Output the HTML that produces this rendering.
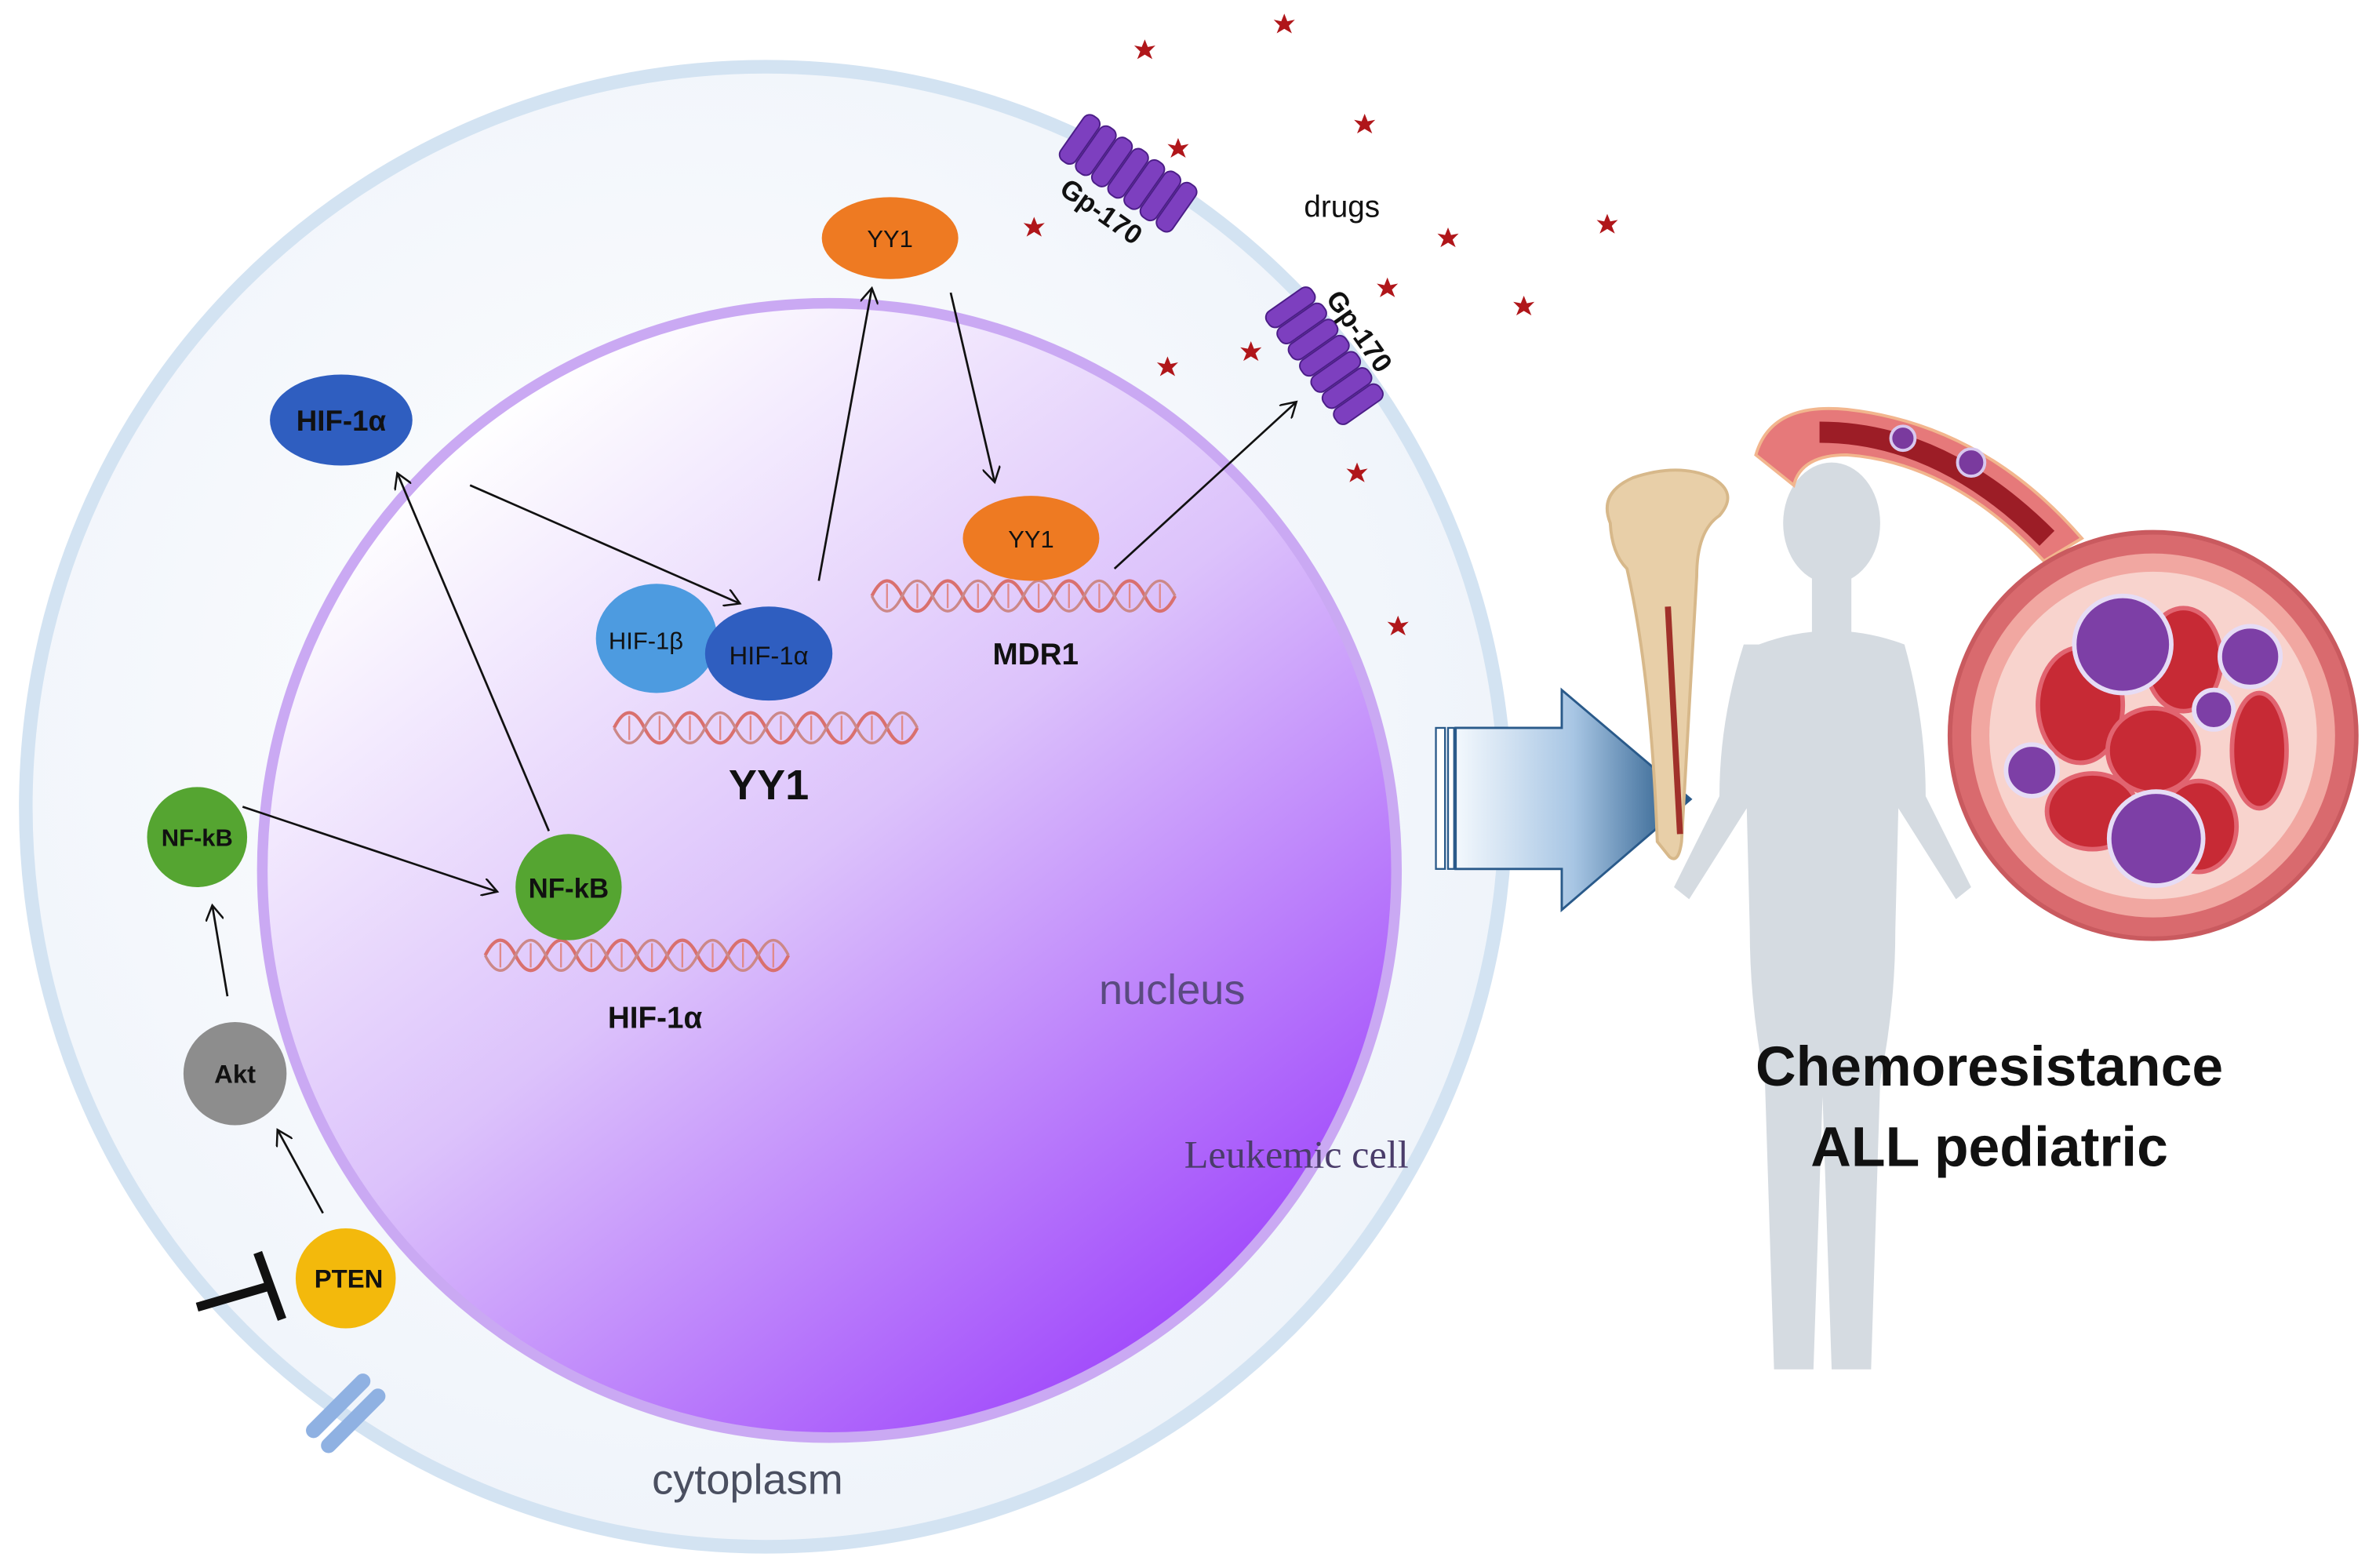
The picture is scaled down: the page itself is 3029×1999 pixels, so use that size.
<!DOCTYPE html>
<html><head><meta charset="utf-8"><style>html,body{margin:0;padding:0;background:#fff}svg{display:block}</style></head>
<body>
<svg width="3029" height="1999" viewBox="0 0 1567 1034" preserveAspectRatio="none" xmlns="http://www.w3.org/2000/svg" font-family="Liberation Sans, sans-serif">
<defs>
<linearGradient id="nuc" x1="0.2" y1="0.1" x2="0.85" y2="0.95">
<stop offset="0" stop-color="#ffffff"/><stop offset="0.45" stop-color="#dcc2fb"/><stop offset="1" stop-color="#9a3cfb"/></linearGradient>
<radialGradient id="cyt" cx="0.45" cy="0.45" r="0.6"><stop offset="0" stop-color="#ffffff"/><stop offset="1" stop-color="#eef3fa"/></radialGradient>
<linearGradient id="arr" x1="0" x2="1"><stop offset="0" stop-color="#f3f8fd"/><stop offset="0.5" stop-color="#a8c6e4"/><stop offset="1" stop-color="#1e5282"/></linearGradient>
<marker id="ah" markerWidth="12" markerHeight="12" refX="10" refY="6" orient="auto" markerUnits="userSpaceOnUse"><path d="M0,0 L10,6 L0,12" fill="none" stroke="#111" stroke-width="1.3"/></marker>
<g id="dna"><path d="M0,10 q10,-20 20,0 t20,0 t20,0 t20,0 t20,0 t20,0 t20,0 t20,0 t20,0 t20,0" fill="none" stroke="#d9706e" stroke-width="2.2"/><path d="M0,10 q10,20 20,0 t20,0 t20,0 t20,0 t20,0 t20,0 t20,0 t20,0 t20,0 t20,0" fill="none" stroke="#c88" stroke-width="1.8"/><path d="M10,2 v16 M30,2 v16 M50,2 v16 M70,2 v16 M90,2 v16 M110,2 v16 M130,2 v16 M150,2 v16 M170,2 v16 M190,2 v16" stroke="#e08a8a" stroke-width="1.2"/></g>
<g id="star"><path d="M0,-7 L2,-2 7,-3 3,1 5,6 0,3 -5,6 -3,1 -7,-3 -2,-2Z" fill="#b0161a"/></g>
</defs>
<rect width="1567" height="1034" fill="#fff"/>
<circle cx="505" cy="532" r="488" fill="url(#cyt)" stroke="#d3e3f2" stroke-width="9"/>
<circle cx="547" cy="574" r="374" fill="url(#nuc)" stroke="#caa9f3" stroke-width="7"/>
<use href="#dna" x="405" y="470"/>
<use href="#dna" x="575" y="383"/>
<use href="#dna" x="320" y="620"/>
<g stroke="#111" stroke-width="1.4" fill="none" marker-end="url(#ah)">
<line x1="310" y1="320" x2="488" y2="398"/>
<line x1="540" y1="383" x2="575" y2="190"/>
<line x1="627" y1="193" x2="656" y2="318"/>
<line x1="735" y1="375" x2="855" y2="265"/>
<line x1="362" y1="548" x2="262" y2="312"/>
<line x1="160" y1="532" x2="328" y2="588"/>
<line x1="150" y1="657" x2="140" y2="597"/>
<line x1="213" y1="800" x2="183" y2="745"/>
</g>
<path d="M130,862 L178,848 M170,826 L186,870" stroke="#111" stroke-width="6" fill="none"/>
<g transform="translate(228,932) rotate(-45)"><rect x="-28" y="-12" width="56" height="10" rx="5" fill="#8fb1e2"/><rect x="-28" y="2" width="56" height="10" rx="5" fill="#8fb1e2"/></g>
<ellipse cx="225" cy="277" rx="47" ry="30" fill="#2f5ec0"/><text x="225" y="284" text-anchor="middle" font-size="19" fill="#111" font-weight="bold">HIF-1α</text>
<ellipse cx="587" cy="157" rx="45" ry="27" fill="#ee7a22"/><text x="587" y="163" text-anchor="middle" font-size="16" fill="#111">YY1</text>
<ellipse cx="680" cy="355" rx="45" ry="28" fill="#ee7a22"/><text x="680" y="361" text-anchor="middle" font-size="16" fill="#111">YY1</text>
<ellipse cx="433" cy="421" rx="40" ry="36" fill="#4d9be0"/><text x="426" y="428" text-anchor="middle" font-size="16" fill="#111">HIF-1β</text>
<ellipse cx="507" cy="431" rx="42" ry="31" fill="#2f5ec0"/><text x="507" y="438" text-anchor="middle" font-size="17" fill="#111">HIF-1α</text>
<circle cx="130" cy="552" r="33" fill="#55a531"/><text x="130" y="558" text-anchor="middle" font-size="16" font-weight="bold" fill="#111">NF-kB</text>
<circle cx="375" cy="585" r="35" fill="#55a531"/><text x="375" y="592" text-anchor="middle" font-size="18" font-weight="bold" fill="#111">NF-kB</text>
<circle cx="155" cy="708" r="34" fill="#8d8d8d"/><text x="155" y="714" text-anchor="middle" font-size="17" font-weight="bold" fill="#111">Akt</text>
<circle cx="228" cy="843" r="33" fill="#f3b90c"/><text x="230" y="849" text-anchor="middle" font-size="17" font-weight="bold" fill="#111">PTEN</text>
<text x="507" y="527" text-anchor="middle" font-size="28" font-weight="bold" fill="#111">YY1</text>
<text x="683" y="438" text-anchor="middle" font-size="20" font-weight="bold" fill="#111">MDR1</text>
<text x="432" y="678" text-anchor="middle" font-size="20" font-weight="bold" fill="#111">HIF-1α</text>
<text x="773" y="662" text-anchor="middle" font-size="28" fill="#5a4a80">nucleus</text>
<text x="855" y="770" text-anchor="middle" font-size="26" fill="#4a3c6a" font-family="Liberation Serif, serif">Leukemic  cell</text>
<text x="493" y="985" text-anchor="middle" font-size="28" fill="#4a4f60">cytoplasm</text>
<text x="885" y="143" text-anchor="middle" font-size="20" fill="#111">drugs</text>
<g transform="translate(740,120) rotate(35)"><g fill="#7d3fbf" stroke="#4b1d87" stroke-width="1"><rect x="-45" y="-25" width="12" height="36" rx="5"/><rect x="-32" y="-25" width="12" height="36" rx="5"/><rect x="-19" y="-25" width="12" height="36" rx="5"/><rect x="-6" y="-25" width="12" height="36" rx="5"/><rect x="7" y="-25" width="12" height="36" rx="5"/><rect x="20" y="-25" width="12" height="36" rx="5"/><rect x="33" y="-25" width="12" height="36" rx="5"/></g><text x="0" y="30" text-anchor="middle" font-size="18" font-weight="bold" fill="#111">Gp-170</text></g>
<g transform="translate(880,230) rotate(55)"><g fill="#7d3fbf" stroke="#4b1d87" stroke-width="1"><rect x="-45" y="-10" width="12" height="36" rx="5"/><rect x="-32" y="-10" width="12" height="36" rx="5"/><rect x="-19" y="-10" width="12" height="36" rx="5"/><rect x="-6" y="-10" width="12" height="36" rx="5"/><rect x="7" y="-10" width="12" height="36" rx="5"/><rect x="20" y="-10" width="12" height="36" rx="5"/><rect x="33" y="-10" width="12" height="36" rx="5"/></g><text x="0" y="-14" text-anchor="middle" font-size="18" font-weight="bold" fill="#111">Gp-170</text></g>
<use href="#star" x="755" y="33"/><use href="#star" x="847" y="16"/><use href="#star" x="777" y="98"/><use href="#star" x="900" y="82"/><use href="#star" x="682" y="150"/><use href="#star" x="955" y="157"/><use href="#star" x="1060" y="148"/><use href="#star" x="915" y="190"/><use href="#star" x="1005" y="202"/><use href="#star" x="825" y="232"/><use href="#star" x="770" y="242"/><use href="#star" x="895" y="312"/><use href="#star" x="922" y="413"/>
<path d="M960,480 L1030,480 L1030,455 L1115,527 L1030,600 L1030,573 L960,573Z" fill="url(#arr)" stroke="#2a5a8a" stroke-width="1.5"/>
<rect x="947" y="480" width="6" height="93" fill="#fff" stroke="#2a5a8a" stroke-width="1.2"/>
<rect x="955" y="480" width="4" height="93" fill="#fff" stroke="#2a5a8a" stroke-width="1.2"/>
<!-- child -->
<g fill="#d5dbe1">
<ellipse cx="1208" cy="345" rx="32" ry="40"/>
<rect x="1195" y="380" width="26" height="40"/>
<path d="M1160,425 q48,-18 96,0 q14,50 14,100 l30,60 l-10,8 l-38,-60 l-2,80 q0,50 -10,100 l-6,190 h-26 l-6,-180 l-6,180 h-26 l-6,-190 q-10,-50 -10,-100 l-2,-80 l-38,60 l-10,-8 l30,-60 q0,-50 16,-100Z"/>
</g>
<!-- bone -->
<path d="M1062,345 q-8,-20 15,-30 q30,-10 52,0 q18,10 5,25 q-15,10 -15,40 l-10,175 q-2,15 -8,10 l-8,-10 q-4,-110 -20,-180 q-10,-10 -11,-30Z" fill="#e8cfa8" stroke="#d7b88a" stroke-width="2"/>
<path d="M1100,400 l8,150" stroke="#a0302a" stroke-width="4"/>
<!-- vessel -->
<path d="M1158,300 q10,-35 60,-30 q90,10 155,85 l-25,15 q-60,-65 -130,-70 q-30,0 -35,20Z" fill="#e6797a" stroke="#f2b68e" stroke-width="2"/>
<path d="M1200,285 q80,0 150,70" stroke="#9c1d26" stroke-width="14" fill="none"/>
<circle cx="1255" cy="289" r="8" fill="#7a3a9e" stroke="#d8c8ee" stroke-width="2"/><circle cx="1300" cy="305" r="9" fill="#7a3a9e" stroke="#d8c8ee" stroke-width="2"/>
<circle cx="1420" cy="485" r="134" fill="#d96a6e" stroke="#c95a5f" stroke-width="3"/>
<circle cx="1420" cy="485" r="120" fill="#f1a7a1"/>
<circle cx="1420" cy="485" r="108" fill="#f8d3cd"/>
<g fill="#c72a35" stroke="#e16470" stroke-width="3">
<ellipse cx="1372" cy="465" rx="28" ry="38"/><ellipse cx="1440" cy="435" rx="25" ry="34"/><ellipse cx="1420" cy="495" rx="30" ry="28"/><ellipse cx="1490" cy="495" rx="18" ry="38"/><ellipse cx="1380" cy="535" rx="30" ry="25"/><ellipse cx="1450" cy="545" rx="25" ry="30"/>
</g>
<g fill="#7d3fa6" stroke="#e6dcf5" stroke-width="3">
<circle cx="1400" cy="425" r="32"/><circle cx="1484" cy="433" r="20"/><circle cx="1460" cy="468" r="13"/><circle cx="1340" cy="508" r="17"/><circle cx="1422" cy="553" r="31"/>
</g>
<text x="1312" y="716" text-anchor="middle" font-size="37" font-weight="bold" fill="#111">Chemoresistance</text>
<text x="1312" y="769" text-anchor="middle" font-size="37" font-weight="bold" fill="#111">ALL pediatric</text>
</svg>
</body></html>
